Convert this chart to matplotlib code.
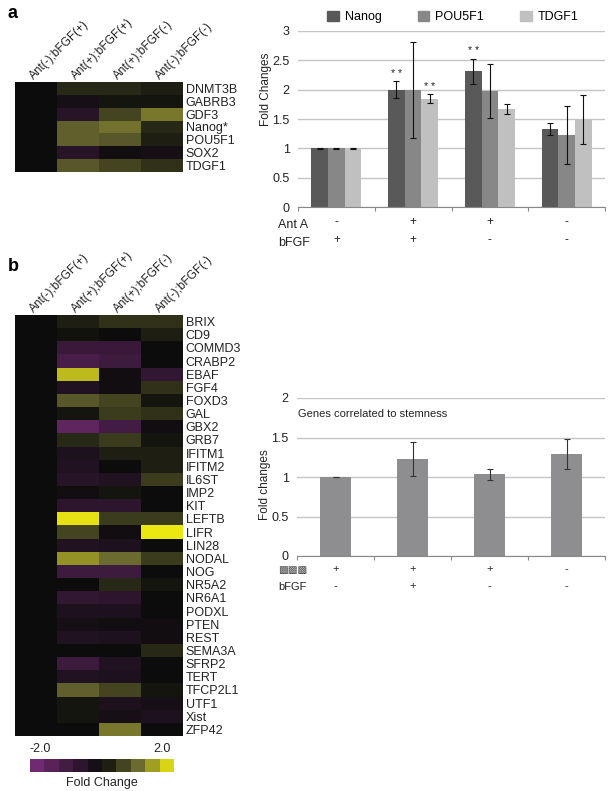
import numpy as np
import matplotlib
matplotlib.use("Agg")
import matplotlib.pyplot as plt
from matplotlib.colors import LinearSegmentedColormap
from matplotlib.patches import Patch
import matplotlib.transforms as mtrans

plt.rcParams['font.family'] = ['Liberation Sans', 'DejaVu Sans']

# ---------------- data ----------------
conditions = ["Ant(-);bFGF(+)", "Ant(+);bFGF(+)", "Ant(+);bFGF(-)", "Ant(-);bFGF(-)"]

genes_a = ["DNMT3B", "GABRB3", "GDF3", "Nanog*", "POU5F1", "SOX2", "TDGF1"]
heat_a = [
    [0, 0.3, 0.3, 0.2],
    [0, -0.2, 0.1, 0.1],
    [0, -0.5, 0.6, 1.1],
    [0, 0.9, 1.05, 0.3],
    [0, 0.9, 0.8, 0.2],
    [0, -0.5, -0.1, -0.2],
    [0, 0.8, 0.6, 0.4],
]

genes_b = ["BRIX", "CD9", "COMMD3", "CRABP2", "EBAF", "FGF4", "FOXD3", "GAL",
           "GBX2", "GRB7", "IFITM1", "IFITM2", "IL6ST", "IMP2", "KIT", "LEFTB",
           "LIFR", "LIN28", "NODAL", "NOG", "NR5A2", "NR6A1", "PODXL", "PTEN",
           "REST", "SEMA3A", "SFRP2", "TERT", "TFCP2L1", "UTF1", "Xist", "ZFP42"]
heat_b = [
    [0, 0.2, 0.4, 0.4],
    [0, 0.05, 0.0, 0.2],
    [0, -0.8, -0.8, 0.0],
    [0, -1.1, -0.9, 0.0],
    [0, 1.6, -0.1, -0.7],
    [0, -0.4, -0.1, 0.4],
    [0, 0.8, 0.6, 0.1],
    [0, 0.1, 0.5, 0.4],
    [0, -1.5, -1.0, -0.1],
    [0, 0.3, 0.5, 0.1],
    [0, -0.3, 0.2, 0.2],
    [0, -0.4, 0.0, 0.2],
    [0, -0.5, -0.4, 0.5],
    [0, -0.1, 0.1, 0.0],
    [0, -0.6, -0.6, 0.0],
    [0, 1.9, 0.5, 0.5],
    [0, 0.6, -0.1, 1.95],
    [0, -0.4, -0.3, 0.0],
    [0, 1.3, 1.0, 0.5],
    [0, -0.9, -0.9, 0.0],
    [0, 0.0, 0.3, 0.1],
    [0, -0.7, -0.6, 0.0],
    [0, -0.3, -0.3, 0.0],
    [0, -0.2, -0.1, -0.1],
    [0, -0.4, -0.3, -0.1],
    [0, 0.0, 0.0, 0.3],
    [0, -0.9, -0.4, 0.0],
    [0, -0.4, -0.3, 0.0],
    [0, 0.9, 0.6, 0.1],
    [0, 0.1, -0.3, -0.2],
    [0, 0.1, -0.2, -0.3],
    [0, 0.0, 1.1, 0.0],
]

cbar_levels = [-1.8, -1.4, -1.0, -0.6, -0.2, 0.2, 0.6, 1.0, 1.4, 1.8]

series_names = ["Nanog", "POU5F1", "TDGF1"]
nanog = [1.0, 2.0, 2.31, 1.33]
nanog_err = [0.005, 0.15, 0.22, 0.11]
pou5f1 = [1.0, 2.0, 1.97, 1.23]
pou5f1_err = [0.005, 0.82, 0.46, 0.49]
tdgf1 = [1.0, 1.845, 1.67, 1.49]
tdgf1_err = [0.005, 0.08, 0.08, 0.42]
stars = [(0, 1), (2, 1), (0, 2)]  # (series index, group index)

antA_top = ["-", "+", "+", "-"]
bfgf_top = ["+", "+", "-", "-"]

stem_vals = [1.0, 1.228, 1.034, 1.287]
stem_err = [0.005, 0.21, 0.07, 0.19]
row1_bottom = ["+", "+", "+", "-"]
bfgf_bottom = ["-", "+", "-", "-"]

# ---------------- figure ----------------
W, H = 611, 791
fig = plt.figure(figsize=(W / 100, H / 100), dpi=100)


def px_axes(x0, y0, x1, y1):
    return fig.add_axes([x0 / W, 1 - y1 / H, (x1 - x0) / W, (y1 - y0) / H])


cmap = LinearSegmentedColormap.from_list(
    "pby", [(0.0, "#7a2e7c"), (0.5, "#0c0c0c"), (0.75, "#6a6a30"), (1.0, "#f2ee10")])

FS = 9
TXT = "#222222"


def draw_heat(ax, data, genes):
    arr = np.array(data)
    ax.imshow(arr, cmap=cmap, vmin=-2, vmax=2, aspect="auto", interpolation="nearest")
    ax.set_xticks([])
    ax.yaxis.tick_right()
    ax.set_yticks(range(len(genes)))
    ax.set_yticklabels(genes, fontsize=FS, color=TXT)
    ax.tick_params(axis="y", length=0, pad=2)
    for s in ax.spines.values():
        s.set_visible(False)
    for j, c in enumerate(conditions):
        ax.text(j + 0.0, -0.5, c, rotation=45, ha="left", va="bottom",
                rotation_mode="anchor", fontsize=8.5, color=TXT,
                transform=ax.transData)


ax_ha = px_axes(15, 82, 183, 172)
draw_heat(ax_ha, heat_a, genes_a)
ax_hb = px_axes(15, 315, 183, 736)
draw_heat(ax_hb, heat_b, genes_b)

# colorbar
ax_cb = px_axes(30, 759, 174, 772)
ax_cb.imshow(np.array([cbar_levels]), cmap=cmap, vmin=-2, vmax=2, aspect="auto")
ax_cb.set_xticks([])
ax_cb.set_yticks([])
for s in ax_cb.spines.values():
    s.set_visible(False)
ax_cb.text(0.07, 1.3, "-2.0", transform=ax_cb.transAxes, fontsize=FS, ha="center", va="bottom", color=TXT)
ax_cb.text(0.92, 1.3, "2.0", transform=ax_cb.transAxes, fontsize=FS, ha="center", va="bottom", color=TXT)
ax_cb.text(0.5, -0.4, "Fold Change", transform=ax_cb.transAxes, fontsize=FS, ha="center", va="top", color=TXT)

fig.text(8 / W, 1 - 13 / H, "a", fontsize=13, fontweight="bold", va="center")
fig.text(8 / W, 1 - 266 / H, "b", fontsize=13, fontweight="bold", va="center")

GRID = "#c4c4c4"


def style_bar_ax(ax, ymax, ylabel):
    ax.set_xlim(-0.5, 3.5)
    ax.set_ylim(0, ymax)
    yt = np.arange(0, ymax + 0.01, 0.5)
    ax.set_yticks(yt)
    ax.set_yticklabels([("%g" % v) for v in yt], fontsize=9, color=TXT)
    ax.yaxis.grid(True, color=GRID, lw=1.0)
    ax.set_axisbelow(True)
    ax.set_xticks([-0.5, 0.5, 1.5, 2.5, 3.5])
    ax.set_xticklabels([])
    ax.tick_params(axis="x", length=3, color="#888888", direction="out")
    ax.tick_params(axis="y", length=0, pad=6)
    for k in ("top", "right", "left"):
        ax.spines[k].set_visible(False)
    ax.spines["bottom"].set_color("#888888")
    ax.set_ylabel(ylabel, fontsize=8.5, color=TXT)


# top bar chart
ax1 = px_axes(298, 31, 605, 207)
style_bar_ax(ax1, 3, "Fold Changes")
ax1.yaxis.set_label_coords(-0.085, 0.67)
bw = 0.217
x = np.arange(4)
cols = ["#595959", "#878787", "#c0c0c0"]
vals = [nanog, pou5f1, tdgf1]
errs = [nanog_err, pou5f1_err, tdgf1_err]
for k in range(3):
    ax1.bar(x + (k - 1) * bw, vals[k], bw, color=cols[k], label=series_names[k],
            yerr=errs[k], error_kw=dict(ecolor="#111111", lw=0.8, capsize=2, capthick=0.8))
for k, g in stars:
    ax1.text(g + (k - 1) * bw, vals[k][g] + errs[k][g] + 0.04, "* *", ha="center",
             va="bottom", fontsize=7.5, color=TXT)
handles = [Patch(color=cols[k], label=series_names[k]) for k in range(3)]
ax1.legend(handles=handles, loc="center", bbox_to_anchor=(0.505, 1.08), ncol=3,
           frameon=False, fontsize=9, handlelength=0.9, handleheight=0.9,
           columnspacing=2.9, handletextpad=0.5)

tr1 = mtrans.blended_transform_factory(ax1.transData, fig.transFigure)
fig.text(278 / W, 1 - 225 / H, "Ant A", fontsize=9, va="center", color=TXT)
fig.text(278 / W, 1 - 243 / H, "bFGF", fontsize=9, va="center", color=TXT)
for i in range(4):
    ax1.text(x[i], 1 - 222 / H, antA_top[i], transform=tr1, ha="center", va="center", fontsize=8.5, color=TXT)
    ax1.text(x[i], 1 - 240 / H, bfgf_top[i], transform=tr1, ha="center", va="center", fontsize=8.5, color=TXT)

# bottom bar chart
ax2 = px_axes(297, 398, 605, 556)
style_bar_ax(ax2, 2, "Fold changes")
ax2.yaxis.set_label_coords(-0.085, 0.45)
ax2.bar(x, stem_vals, 0.39, color="#8e8e90", yerr=stem_err,
        error_kw=dict(ecolor="#333333", lw=0.8, capsize=2, capthick=0.8))
ax2.text(0.003, 0.9, "Genes correlated to stemness", transform=ax2.transAxes,
         fontsize=8, va="center", ha="left", color=TXT)
tr2 = mtrans.blended_transform_factory(ax2.transData, fig.transFigure)
fig.text(278 / W, 1 - 570 / H, "▩▩▩", fontsize=7.5, va="center", family="DejaVu Sans", color="#444444")
fig.text(278 / W, 1 - 587 / H, "bFGF", fontsize=8, va="center", color=TXT)
for i in range(4):
    ax2.text(x[i], 1 - 569 / H, row1_bottom[i], transform=tr2, ha="center", va="center", fontsize=8, color=TXT)
    ax2.text(x[i], 1 - 586 / H, bfgf_bottom[i], transform=tr2, ha="center", va="center", fontsize=8, color=TXT)

fig.savefig("out.png", dpi=100)
